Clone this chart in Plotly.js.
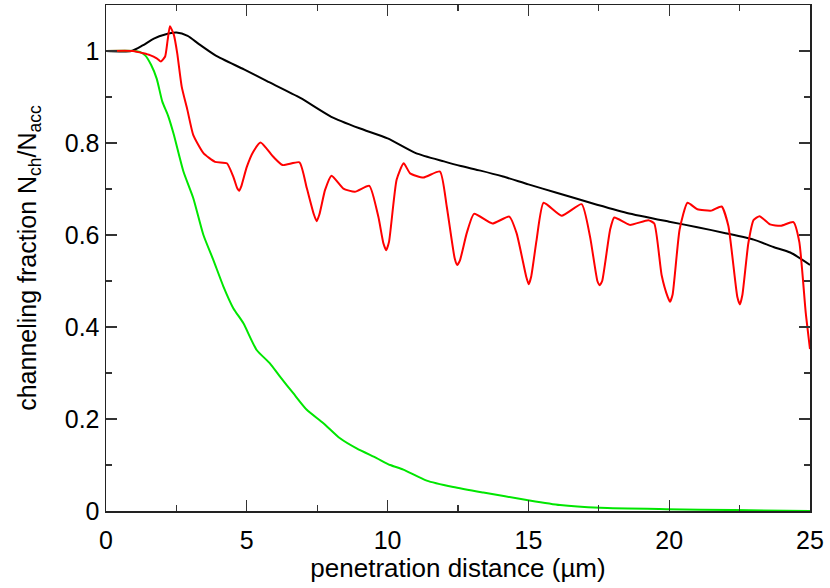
<!DOCTYPE html>
<html>
<head>
<meta charset="utf-8">
<script src="https://cdn.plot.ly/plotly-3.0.1.min.js"></script>
<style>
  html, body { margin: 0; padding: 0; background: #fff; }
  #chart { width: 830px; height: 588px; }
</style>
</head>
<body>
<div id="chart"></div>
<script>
// black curve
const blackX = [0, 0.9, 1.3, 1.7, 2.1, 2.5, 2.9, 3.3, 3.9, 4.9, 5.7, 6.9, 8.0, 9.0, 10.0, 11.0, 12.0, 12.6, 13.3, 14.1, 15.0, 16.0, 17.2, 18.5, 20.0, 21.0, 22.0, 23.0, 23.7, 24.3, 25];
const blackY = [1, 1, 1.012, 1.027, 1.036, 1.04, 1.033, 1.015, 0.99, 0.96, 0.935, 0.898, 0.857, 0.832, 0.81, 0.778, 0.76, 0.75, 0.74, 0.727, 0.71, 0.692, 0.67, 0.648, 0.629, 0.617, 0.604, 0.59, 0.574, 0.562, 0.535];

// red curve
const redX = [0, 0.96, 1.33, 1.56, 1.8, 1.95, 2.1, 2.19, 2.27, 2.41, 2.53, 2.69, 2.89, 3.1, 3.46, 3.87, 4.29, 4.52, 4.65, 4.73, 4.8, 5.0, 5.23, 5.49, 5.94, 6.27, 6.87, 7.13, 7.38, 7.48, 7.58, 7.78, 8.01, 8.43, 8.84, 9.35, 9.67, 9.85, 9.95, 10.05, 10.32, 10.57, 10.8, 11.27, 11.86, 12.1, 12.38, 12.47, 12.57, 12.81, 13.07, 13.72, 14.32, 14.58, 14.92, 15.01, 15.1, 15.29, 15.54, 16.18, 16.89, 17.19, 17.45, 17.53, 17.62, 17.9, 18.05, 18.6, 19.26, 19.47, 19.73, 19.95, 20.03, 20.12, 20.37, 20.65, 21.0, 21.5, 21.86, 22.1, 22.42, 22.51, 22.6, 22.81, 23.0, 23.21, 23.58, 23.96, 24.41, 24.62, 24.85, 25.0];
const redY = [1, 1, 0.995, 0.991, 0.984, 0.977, 0.988, 1.024, 1.054, 1.035, 0.995, 0.922, 0.872, 0.817, 0.778, 0.759, 0.756, 0.727, 0.703, 0.696, 0.705, 0.748, 0.781, 0.801, 0.770, 0.752, 0.758, 0.702, 0.645, 0.630, 0.645, 0.698, 0.729, 0.701, 0.694, 0.707, 0.640, 0.582, 0.567, 0.585, 0.72, 0.756, 0.734, 0.725, 0.738, 0.662, 0.55, 0.535, 0.545, 0.604, 0.646, 0.625, 0.640, 0.604, 0.51, 0.493, 0.51, 0.589, 0.670, 0.642, 0.667, 0.596, 0.50, 0.491, 0.50, 0.611, 0.638, 0.622, 0.632, 0.625, 0.513, 0.465, 0.455, 0.47, 0.612, 0.670, 0.656, 0.653, 0.662, 0.62, 0.465, 0.449, 0.47, 0.582, 0.633, 0.641, 0.623, 0.620, 0.628, 0.585, 0.43, 0.352];

// green curve
const greenX = [0, 1.0, 1.2, 1.4, 1.6, 1.8, 2.0, 2.2, 2.4, 2.75, 3.1, 3.46, 3.81, 4.17, 4.52, 4.88, 5.35, 5.82, 6.18, 6.65, 7.13, 7.72, 8.31, 8.9, 9.61, 10.09, 10.56, 11.39, 12.33, 13.4, 14.94, 16.12, 17.54, 19.9, 22.3, 25];
const greenY = [1, 1, 0.998, 0.99, 0.97, 0.94, 0.89, 0.86, 0.82, 0.738, 0.68, 0.60, 0.546, 0.488, 0.441, 0.408, 0.35, 0.321, 0.292, 0.256, 0.220, 0.191, 0.158, 0.136, 0.115, 0.100, 0.090, 0.066, 0.052, 0.040, 0.024, 0.013, 0.007, 0.004, 0.002, 0.0];

const xTitle = 'penetration distance (\u00b5m)';
const yTitle = 'channeling fraction N<sub>ch</sub>/N<sub>acc</sub>';

const fam = '"Liberation Sans", Arial, sans-serif';
const tickFont = { family: fam, size: 25, color: '#000' };

const traces = [
    { x: blackX, y: blackY, mode: 'lines', line: { color: '#000000', width: 2, shape: 'spline', smoothing: 0.6 } },
    { x: greenX, y: greenY, mode: 'lines', line: { color: '#00e600', width: 2, shape: 'spline', smoothing: 0.6 } },
    { x: redX, y: redY, mode: 'lines', line: { color: '#ff0000', width: 2, shape: 'spline', smoothing: 0.5 } }
];

const axisBase = {
    showline: true,
    linecolor: '#222',
    linewidth: 1.5,
    mirror: 'allticks',
    ticks: 'inside',
    ticklen: 11,
    tickwidth: 1.2,
    tickcolor: '#333',
    showgrid: false,
    zeroline: false,
    tickfont: tickFont
};

const layout = {
    width: 830,
    height: 588,
    paper_bgcolor: '#fff',
    plot_bgcolor: '#fff',
    showlegend: false,
    font: tickFont,
    margin: { l: 106, r: 20, t: 5, b: 77 },
    xaxis: {
        ...axisBase,
        range: [0, 25],
        dtick: 5,
        tick0: 0,
        ticklabelstandoff: 6,
        minor: { dtick: 2.5, ticks: 'inside', ticklen: 6, tickcolor: '#333', tickwidth: 1.2 },
        title: { text: xTitle, font: { family: fam, size: 26, color: '#000' }, standoff: 4 }
    },
    yaxis: {
        ...axisBase,
        range: [0, 1.1],
        dtick: 0.2,
        tick0: 0,
        minor: { dtick: 0.1, ticks: 'inside', ticklen: 6, tickcolor: '#333', tickwidth: 1.2 },
        title: { text: yTitle, font: { family: fam, size: 25, color: '#000' }, standoff: 21 }
    }
};

Plotly.newPlot('chart', traces, layout, { displayModeBar: false, staticPlot: true });
</script>
</body>
</html>
